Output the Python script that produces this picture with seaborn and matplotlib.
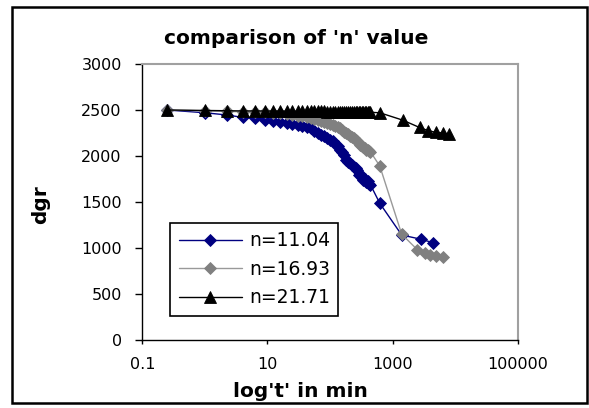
import matplotlib
matplotlib.use("Agg")
import matplotlib.pyplot as plt
from matplotlib.patches import Rectangle
import seaborn as sns
import pandas as pd

# ---- data ----
t_dense = [0.25, 1, 2.25, 4, 6.25, 9, 12.25, 16, 20.25, 25, 30.25, 36, 42.25, 49,
           56.25, 64, 72.25, 81, 90.25, 100, 110.25, 121, 132.25, 144, 156.25, 169,
           182.25, 196, 210.25, 225, 240.25, 256, 272.25, 289, 306.25, 324, 342.25,
           361, 380.25, 400, 420.25, 441]

t_n1104 = t_dense + [625, 1400, 2900, 4400]
dgr_n1104 = [2500, 2470, 2446, 2420, 2410, 2393, 2382, 2373, 2358, 2347, 2340, 2328,
             2315, 2300, 2268, 2250, 2230, 2212, 2192, 2175, 2158, 2135, 2110, 2068,
             2040, 2012, 1960, 1940, 1922, 1905, 1885, 1868, 1848, 1795, 1805, 1770,
             1740, 1750, 1712, 1725, 1700, 1690,
             1486, 1141, 1094, 1058]

t_n1693 = t_dense + [625, 1400, 2500, 3300, 4000, 5000, 6400]
dgr_n1693 = [2500, 2490, 2485, 2480, 2478, 2475, 2470, 2465, 2458, 2450, 2440, 2430,
             2420, 2410, 2400, 2392, 2385, 2372, 2362, 2352, 2340, 2325, 2312, 2300,
             2280, 2262, 2248, 2235, 2220, 2208, 2192, 2178, 2160, 2140, 2125, 2110,
             2098, 2085, 2070, 2062, 2055, 2048,
             1891, 1150, 980, 950, 925, 915, 897]

t_n2171 = t_dense + [625, 1450, 2700, 3700, 4900, 6400, 7900]
dgr_n2171 = [2500, 2495, 2492, 2490, 2490, 2489, 2488, 2488, 2487, 2487, 2486, 2486,
             2485, 2485, 2485, 2484, 2484, 2484, 2483, 2483, 2483, 2482, 2482, 2482,
             2481, 2481, 2481, 2480, 2480, 2480, 2480, 2479, 2479, 2479, 2478, 2478,
             2478, 2477, 2477, 2476, 2476, 2475,
             2470, 2390, 2310, 2275, 2258, 2250, 2240]

labels = ["n=11.04", "n=16.93", "n=21.71"]
y_ticks = [0, 500, 1000, 1500, 2000, 2500, 3000]
x_ticks = [0.1, 10, 1000, 100000]
x_tick_labels = ["0.1", "10", "1000", "100000"]

# ---- style ----
sns.set_style("white")
plt.rcParams["font.family"] = ["DejaVu Sans"]
plt.rcParams["text.color"] = "black"
plt.rcParams["axes.labelcolor"] = "black"
plt.rcParams["xtick.color"] = "black"
plt.rcParams["ytick.color"] = "black"

fig = plt.figure(figsize=(5.89, 4.08), dpi=100)
ax = fig.add_axes([142.3 / 589, 1 - 340 / 408, 375.4 / 589, 276 / 408])

series = [
    (t_n1104, dgr_n1104, labels[0], "#000080", "#000080", "D", 6.5),
    (t_n1693, dgr_n1693, labels[1], "#999999", "#808080", "D", 6.5),
    (t_n2171, dgr_n2171, labels[2], "#000000", "#000000", "^", 8.5),
]
for t, y, lab, lc, mc, mk, ms in series:
    df = pd.DataFrame({"t": t, "dgr": y})
    sns.lineplot(data=df, x="t", y="dgr", ax=ax, color=lc, lw=1.0,
                 marker=mk, markersize=ms, markerfacecolor=mc,
                 markeredgecolor=mc, markeredgewidth=0.6,
                 estimator=None, sort=False, label=lab)

ax.set_xscale("log")
ax.set_xlim(0.1, 100000)
ax.set_ylim(0, 3000)
ax.set_xticks(x_ticks)
ax.set_xticklabels(x_tick_labels)
ax.minorticks_off()
ax.set_yticks(y_ticks)
ax.set_yticklabels([str(v) for v in y_ticks])

ax.tick_params(axis="y", direction="out", length=4.75, width=1, colors="black",
               labelsize=11.5, pad=10, left=True)
ax.tick_params(axis="x", direction="out", length=3, width=1, colors="black",
               labelsize=11.5, pad=9.5, bottom=True)

for s in ["left", "bottom"]:
    ax.spines[s].set_color("black")
    ax.spines[s].set_linewidth(1.0)
for s in ["top", "right"]:
    ax.spines[s].set_color("#a0a0a0")
    ax.spines[s].set_linewidth(1.5)

ax.set_xlabel("log't' in min", fontsize=14.5, fontweight="bold", color="black")
ax.xaxis.set_label_coords(0.42, -0.152)
ax.set_ylabel("dgr", fontsize=14.5, fontweight="bold", color="black")
ax.yaxis.set_label_coords(-0.245, 0.49)

fig.text(296 / 589, 1 - 38 / 408, "comparison of 'n' value", ha="center",
         va="center", fontsize=14.5, fontweight="bold", color="black")

leg = ax.legend(loc="upper left", bbox_to_anchor=(0.074, 0.424), borderaxespad=0,
                frameon=True, fancybox=False, edgecolor="black", framealpha=1,
                fontsize=13.5, handlelength=3.4, handletextpad=0.35,
                labelspacing=0.5, borderpad=0.45)
leg.get_frame().set_linewidth(1.2)
for txt in leg.get_texts():
    txt.set_color("black")

fig.patches.append(Rectangle((12 / 589, 1 - 403 / 408), 575 / 589, 396 / 408,
                             transform=fig.transFigure, fill=False,
                             edgecolor="black", lw=1.8))

fig.savefig("out.png", dpi=100, facecolor="white")
